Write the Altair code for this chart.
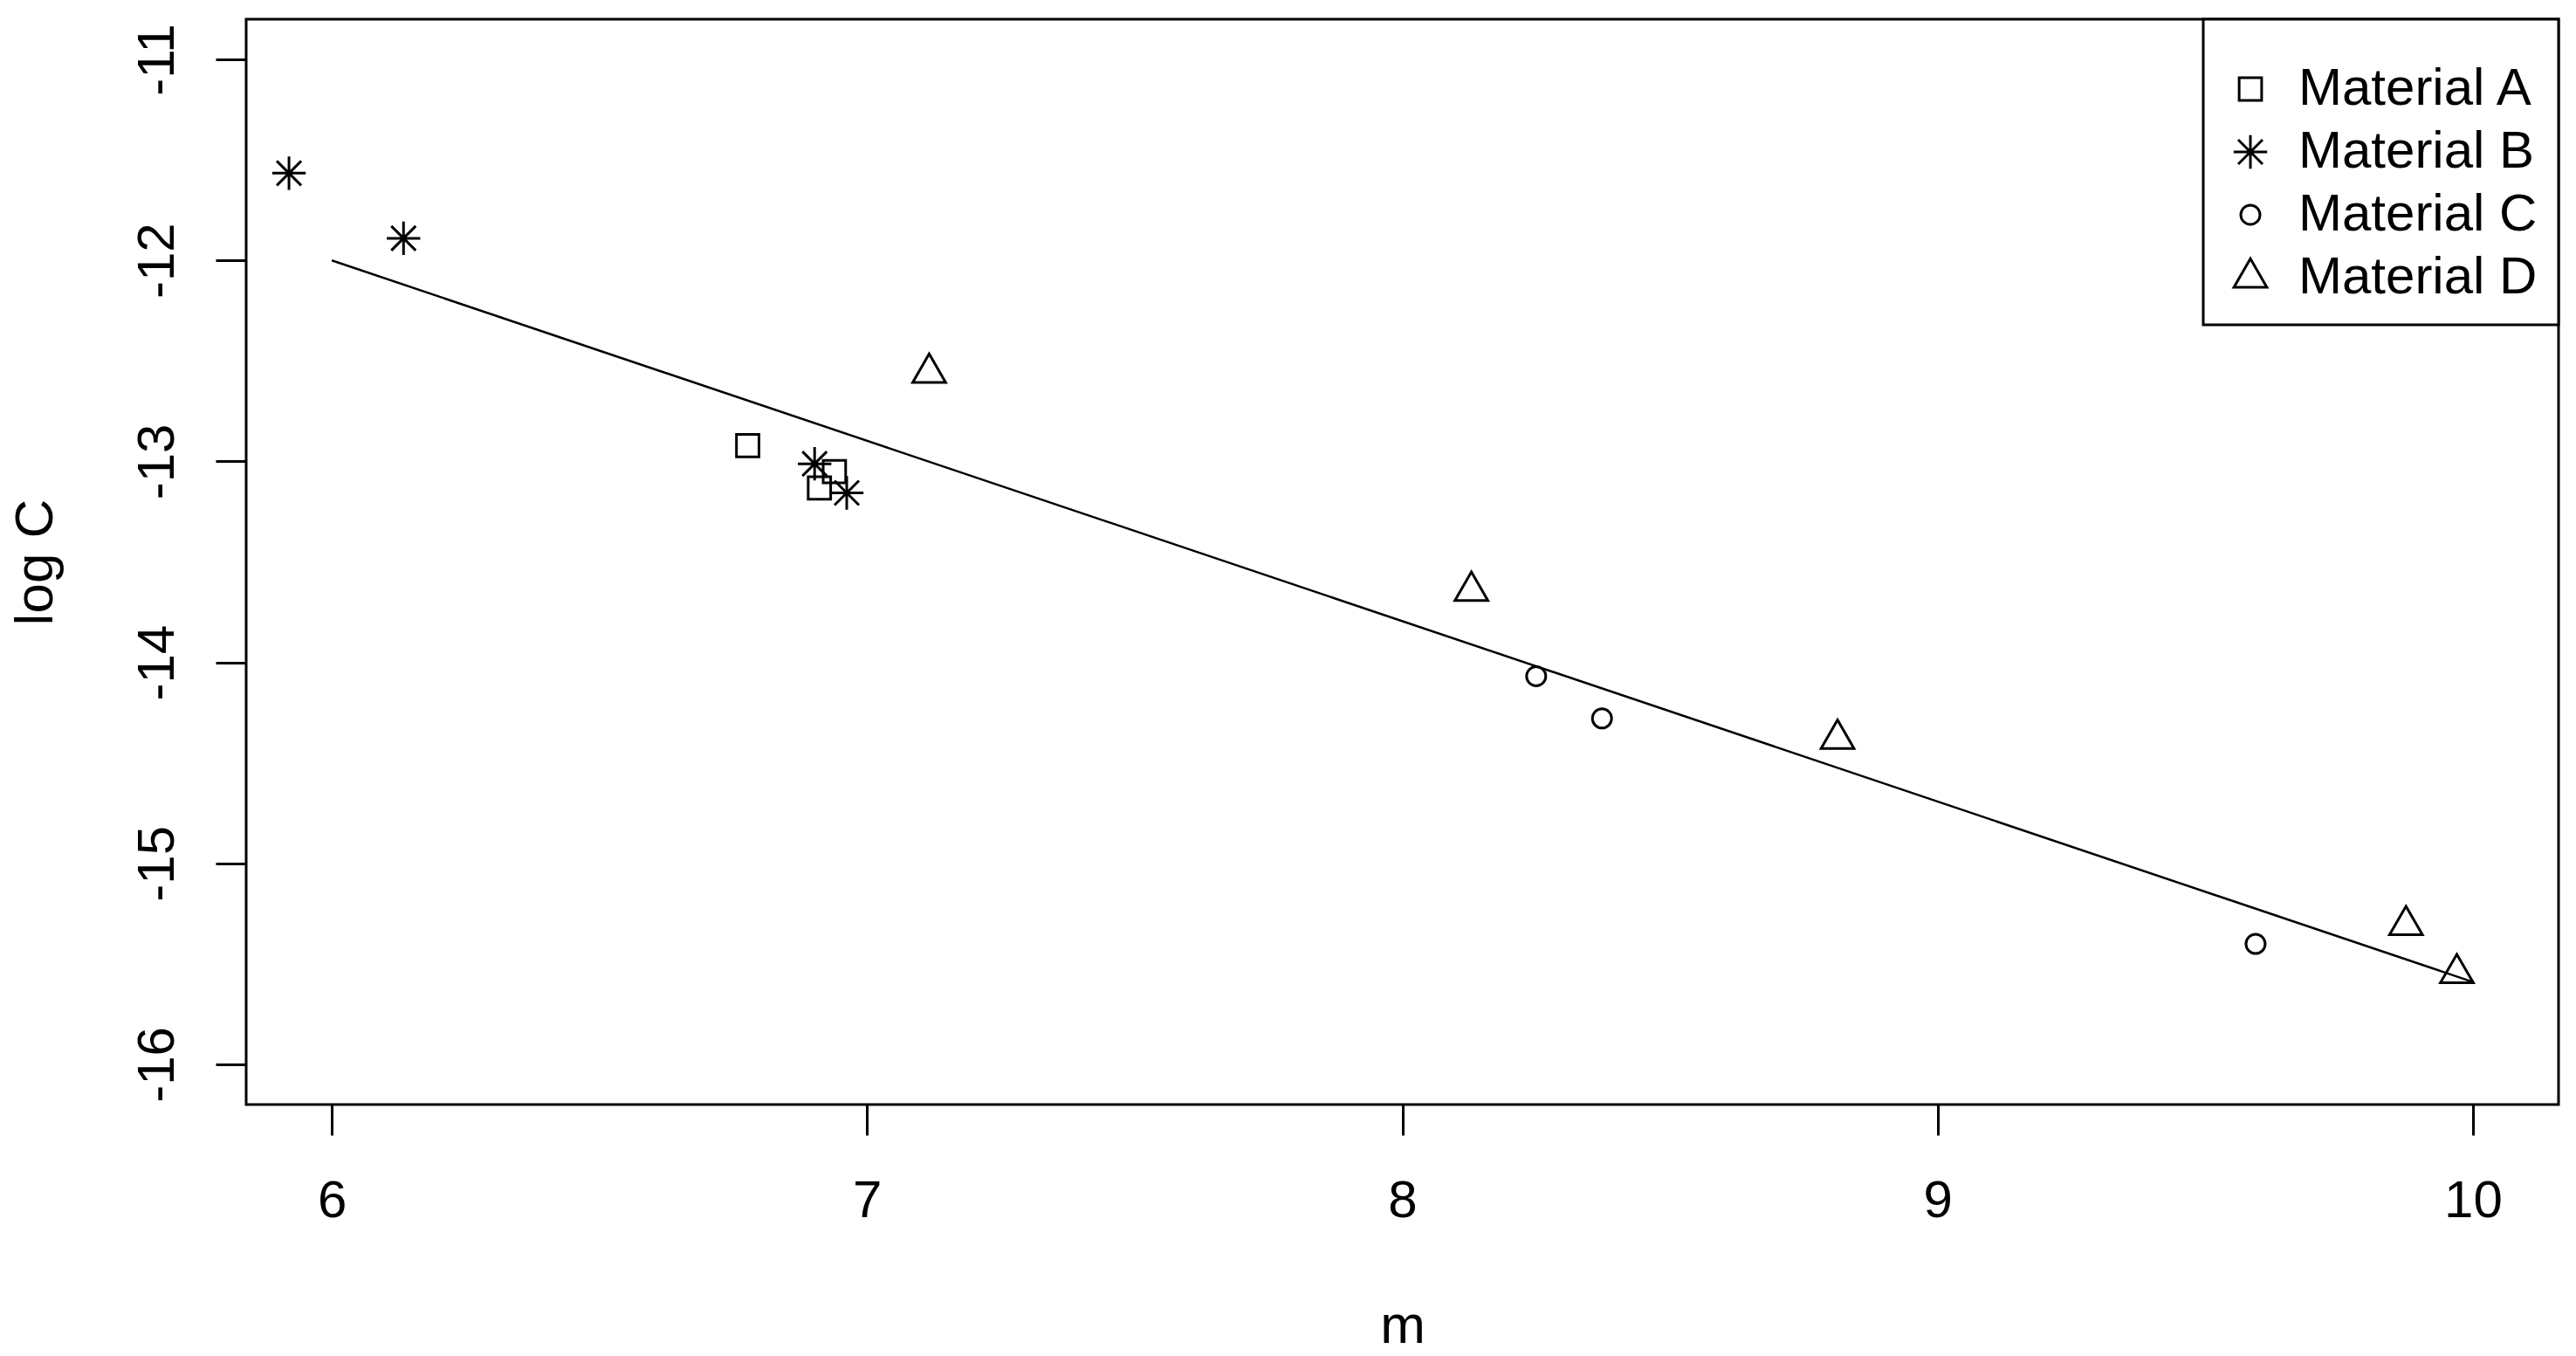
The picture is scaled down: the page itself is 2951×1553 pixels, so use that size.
import altair as alt
import pandas as pd

# ---- data ----
materials = ["Material A", "Material B", "Material C", "Material D"]

a_m = [6.777, 6.939, 6.911]
a_logc = [-12.922, -13.051, -13.132]

b_m = [5.920, 6.134, 6.902, 6.962]
b_logc = [-11.566, -11.890, -13.012, -13.157]

c_m = [8.250, 8.373, 9.594]
c_logc = [-14.069, -14.279, -15.401]

d_m = [7.116, 8.129, 8.813, 9.875, 9.970]
d_logc = [-12.560, -13.645, -14.381, -15.308, -15.547]

fit_m = [6.0, 10.0]
fit_logc = [-12.0, -15.59]

x_ticks = [6, 7, 8, 9, 10]
y_ticks = [-16, -15, -14, -13, -12, -11]

rows = []
for name, xs, ys in zip(materials, [a_m, b_m, c_m, d_m], [a_logc, b_logc, c_logc, d_logc]):
    for xv, yv in zip(xs, ys):
        rows.append({"m": xv, "logC": yv, "Material": name})
pts = pd.DataFrame(rows)
fit = pd.DataFrame({"m": fit_m, "logC": fit_logc})

# R-like symbol outlines (unit path, scaled by sqrt(size)/2)
square = "M-0.92,-0.92 L0.92,-0.92 L0.92,0.92 L-0.92,0.92 Z"
aster = ("M-1.37,0 L1.37,0 M0,-1.37 L0,1.37 "
         "M-1,-1 L1,1 M-1,1 L1,-1")
k = 0.434
r = 0.786
circle = (f"M{r},0 C{r},{k} {k},{r} 0,{r} C-{k},{r} -{r},{k} -{r},0 "
          f"C-{r},-{k} -{k},-{r} 0,-{r} C{k},-{r} {r},-{k} {r},0 Z")
triangle = "M0,-1.555 L1.347,0.778 L-1.347,0.778 Z"
shapes = [square, aster, circle, triangle]

FONT = "Liberation Sans, Arial, sans-serif"
W, H = 2649, 1243

x_scale = alt.Scale(domain=[5.84, 10.16], nice=False, zero=False)
y_scale = alt.Scale(domain=[-16.2, -10.8], nice=False, zero=False)

x_axis = alt.Axis(
    values=x_ticks, title="m", grid=False, domain=False,
    tickSize=35, tickWidth=3, tickColor="black",
    labelFont=FONT, labelFontSize=60, labelColor="black",
    labelBaseline="alphabetic", labelPadding=93, labelFlush=False,
    labelOverlap=False, labelBound=False,
    titleFont=FONT, titleFontSize=62, titleFontWeight="normal", titleColor="black",
    titleX=W / 2, titleY=272, titleAlign="center", titleBaseline="alphabetic",
)
y_axis = alt.Axis(
    values=y_ticks, title="log C", grid=False, domain=False,
    tickSize=35, tickWidth=3, tickColor="black",
    labelFont=FONT, labelFontSize=60, labelColor="black",
    labelAngle=270, labelAlign="center", labelBaseline="alphabetic",
    labelPadding=49, labelFlush=False, labelOverlap=False, labelBound=False,
    labelExpr="'' + datum.value",
    titleFont=FONT, titleFontSize=62, titleFontWeight="normal", titleColor="black",
    titleAngle=270, titleX=-223, titleY=H / 2, titleAlign="center",
    titleBaseline="alphabetic",
)

line = alt.Chart(fit).mark_line(color="black", strokeWidth=2.5).encode(
    x=alt.X("m:Q", scale=x_scale, axis=x_axis),
    y=alt.Y("logC:Q", scale=y_scale, axis=y_axis),
)

points = alt.Chart(pts).mark_point(
    filled=False, color="black", strokeWidth=3, opacity=1, size=784
).encode(
    x=alt.X("m:Q", scale=x_scale, axis=x_axis),
    y=alt.Y("logC:Q", scale=y_scale, axis=y_axis),
    shape=alt.Shape(
        "Material:N",
        scale=alt.Scale(domain=materials, range=shapes),
        legend=alt.Legend(
            title=" ", titleFontSize=16, titlePadding=10,
            orient="top-right", offset=0, padding=24,
            symbolSize=784, symbolStrokeWidth=3, symbolStrokeColor="black",
            symbolFillColor="transparent",
            labelFont=FONT, labelFontSize=60, labelColor="black",
            labelOffset=25, rowPadding=12, labelLimit=1000,
            strokeColor="black", fillColor="white",
        ),
    ),
)

chart = alt.layer(line, points).properties(
    width=W, height=H,
    autosize=alt.AutoSizeParams(type="none"),
    padding={"left": 274, "top": 14, "right": 10, "bottom": 278},
    background="white",
).configure_view(
    stroke="black", strokeWidth=3
).configure_legend(
    strokeWidth=3
)

chart.save("out.html", embed_options={"renderer": "svg", "actions": False})
